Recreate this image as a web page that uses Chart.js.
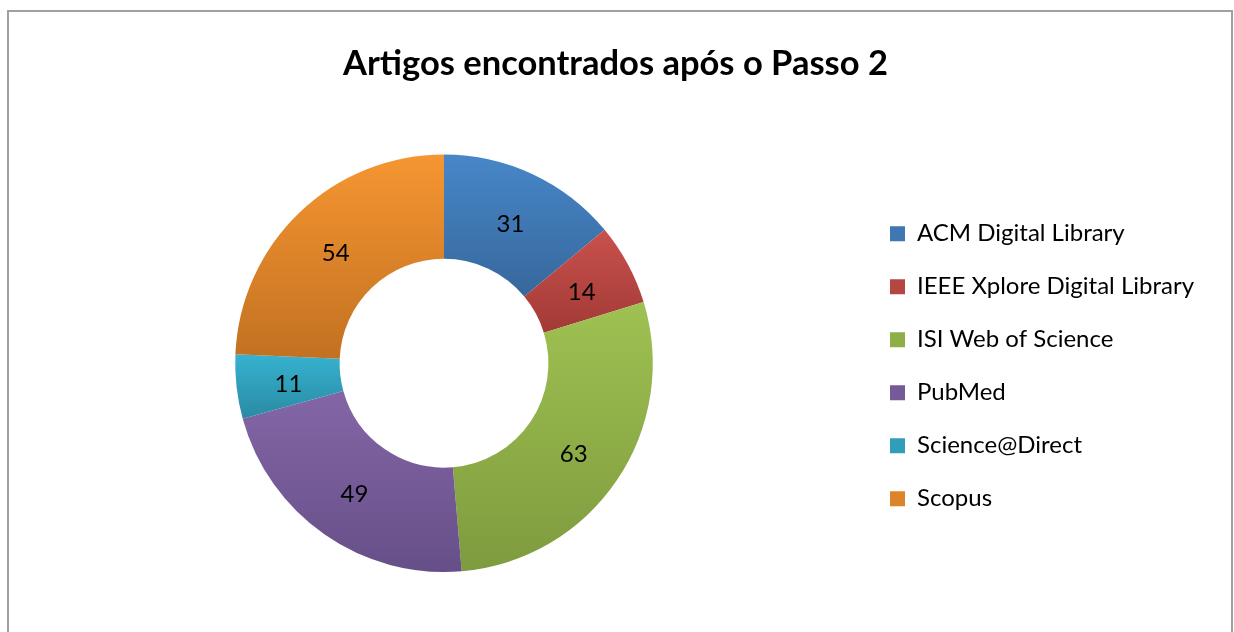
<!DOCTYPE html>
<html>
<head>
<meta charset="utf-8">
<script src="https://cdn.jsdelivr.net/npm/chart.js@4.4.1/dist/chart.umd.min.js"></script>
<style>
  html, body { margin: 0; padding: 0; background: #fff; overflow: hidden; }
  #frame { position: absolute; left: 7px; top: 10px; width: 1222px; height: 700px; border: 2px solid #a0a0a0; }
  #wrap { position: absolute; left: 0; top: 0; width: 1234px; height: 632px; }
</style>
</head>
<body>
<div id="frame"></div>
<div id="wrap"><canvas id="chart"></canvas></div>
<script>
const labels = ["ACM Digital Library", "IEEE Xplore Digital Library", "ISI Web of Science", "PubMed", "Science@Direct", "Scopus"];
const values = [31, 14, 63, 49, 11, 54];
const topColors = ["#4787c8", "#c9514c", "#9fc152", "#8466a6", "#36b2cf", "#f69632"];
const bottomColors = ["#37679c", "#a23a36", "#7e9b3e", "#664f88", "#2a8aa3", "#c27121"];
const midColors = ["#3f77b2", "#b54742", "#8fae48", "#755a97", "#309eb9", "#dc842a"];

const FONT = "Lato";

// vertical gradient over each slice's own bounding box
function sliceFill(context) {
  const chart = context.chart;
  const area = chart.chartArea;
  const i = context.dataIndex;
  if (!area || i === undefined) return midColors[i];
  const cy = (area.top + area.bottom) / 2;
  const r = Math.min(area.right - area.left, area.bottom - area.top) / 2;
  const ri = r * 0.5;
  const total = values.reduce((a, b) => a + b, 0);
  let start = 0;
  for (let k = 0; k < i; k++) start += values[k];
  const a0 = -Math.PI / 2 + start / total * 2 * Math.PI;
  const a1 = a0 + values[i] / total * 2 * Math.PI;
  let minY = Infinity, maxY = -Infinity;
  for (let s = 0; s <= 40; s++) {
    const a = a0 + (a1 - a0) * s / 40;
    for (const rr of [r, ri]) {
      const y = cy + rr * Math.sin(a);
      minY = Math.min(minY, y);
      maxY = Math.max(maxY, y);
    }
  }
  const g = chart.ctx.createLinearGradient(0, minY, 0, maxY);
  g.addColorStop(0, topColors[i]);
  g.addColorStop(1, bottomColors[i]);
  return g;
}

const sliceLabels = {
  id: "sliceLabels",
  afterDatasetsDraw(chart) {
    const ctx = chart.ctx;
    const meta = chart.getDatasetMeta(0);
    ctx.save();
    ctx.font = "24px " + FONT;
    ctx.fillStyle = "#000";
    ctx.textAlign = "center";
    ctx.textBaseline = "middle";
    meta.data.forEach((arc, i) => {
      const p = arc.tooltipPosition();
      ctx.fillText(String(values[i]), p.x, p.y + 3);
    });
    ctx.restore();
  }
};

new Chart(document.getElementById("chart"), {
  type: "doughnut",
  data: {
    labels: labels,
    datasets: [{
      data: values,
      backgroundColor: sliceFill,
      borderWidth: 0,
      hoverOffset: 0
    }]
  },
  options: {
    responsive: true,
    maintainAspectRatio: false,
    animation: false,
    cutout: "50%",
    layout: { padding: { top: 30, bottom: 60, left: 27, right: 30 } },
    plugins: {
      title: {
        display: true,
        text: "Artigos encontrados após o Passo 2",
        color: "#000",
        font: { family: FONT, size: 34.5, weight: "bold" },
        padding: { top: 13, bottom: 70 }
      },
      legend: {
        position: "right",
        align: "center",
        fullSize: false,
        // empty title only nudges the items down a few pixels
        title: { display: true, text: " ", color: "#fff", font: { size: 5 }, padding: 0 },
        labels: {
          color: "#000",
          font: { family: FONT, size: 24 },
          boxWidth: 15,
          boxHeight: 15,
          padding: 29,
          generateLabels(chart) {
            return labels.map((l, i) => ({
              text: l,
              fillStyle: midColors[i],
              strokeStyle: midColors[i],
              fontColor: "#000",
              lineWidth: 0,
              hidden: false,
              index: i
            }));
          }
        }
      },
      tooltip: { enabled: false }
    }
  },
  plugins: [sliceLabels]
});
</script>
</body>
</html>
